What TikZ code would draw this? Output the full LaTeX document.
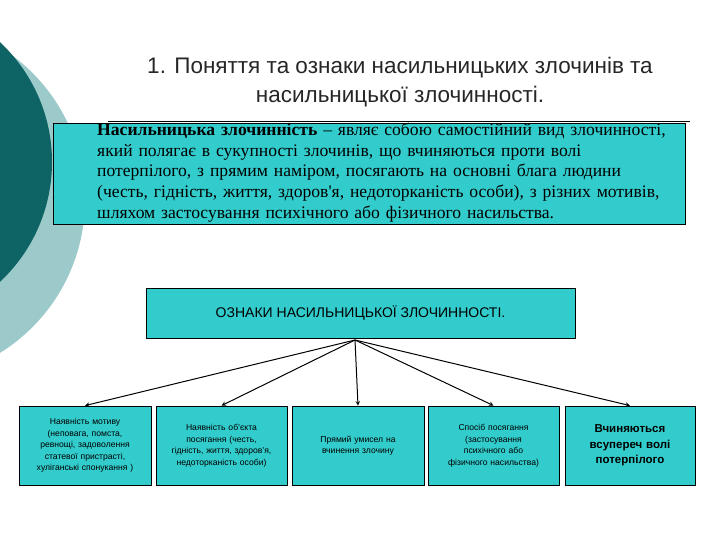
\documentclass[tikz,border=0pt]{standalone}
\usepackage{fontspec}
\setmainfont{Liberation Sans}
\newfontfamily\serif{Liberation Serif}
\begin{document}
\begin{tikzpicture}[x=1pt,y=-1pt,
 box/.style={draw=black,fill=teal1,line width=0.8pt,inner sep=2pt,align=center,font=\fontsize{8.6}{11.5}\selectfont},
 arr/.style={-stealth,line width=1pt}]
\definecolor{teal1}{HTML}{33CCCC}
\definecolor{dk}{HTML}{0E6464}
\definecolor{lt}{HTML}{9CC9C9}
\useasboundingbox (0,0) rectangle (720,540);
\clip (0,0) rectangle (720,540);
\fill[lt] (-95,200) circle (180);
\fill[dk] (-112,162) circle (164);
\node (t) at (400,82) [align=center,font=\fontsize{22.5}{29}\selectfont,text=black!85] {1. Поняття та ознаки насильницьких злочинів та\\насильницької злочинності.};
\coordinate (l1) at (108,121); \coordinate (l2) at (690,121);
\draw[line width=0.8pt] (l1) -- (l2);
\node (def) [draw=black,fill=teal1,line width=0.8pt,minimum width=632pt,minimum height=101pt,anchor=north west,inner sep=0pt] at (53,123) {};
\node (dt) [anchor=north west,align=left,text width=585pt,font=\serif\fontsize{17.6}{20.6}\selectfont,inner sep=0pt] at (97,123)
{\textbf{Насильницька злочинність} – являє собою самостійний вид злочинності,\\ який полягає в сукупності злочинів, що вчиняються проти волі\\ потерпілого, з прямим наміром, посягають на основні блага людини\\ (честь, гідність, життя, здоров'я, недоторканість особи), з різних мотивів,\\ шляхом застосування психічного або фізичного насильства.};
\node (o) [draw=black,fill=teal1,line width=0.8pt,minimum width=429pt,minimum height=50pt,font=\fontsize{14}{16}\selectfont] at (360.5,313) {ОЗНАКИ НАСИЛЬНИЦЬКОЇ ЗЛОЧИННОСТІ.};
\coordinate (h) at (355,340);
\node (b1) [box,minimum width=132pt,minimum height=79pt,text width=128pt] at (85,445.5) {Наявність мотиву\\(неповага, помста,\\ревнощі, задоволення\\статевої пристрасті,\\хуліганські спонукання )};
\node (b2) [box,minimum width=131pt,minimum height=79pt,text width=127pt] at (221.5,445.5) {Наявність об'єкта\\посягання (честь,\\гідність, життя, здоров'я,\\недоторканість особи)};
\node (b3) [box,minimum width=132pt,minimum height=79pt,text width=128pt] at (358,445.5) {Прямий умисел на\\вчинення злочину};
\node (b4) [box,minimum width=131pt,minimum height=79pt,text width=127pt] at (493.5,445.5) {Спосіб посягання\\(застосування\\психічного або\\фізичного насильства)};
\node (b5) [box,minimum width=130pt,minimum height=79pt,text width=120pt,font=\bfseries\fontsize{11.5}{15.5}\selectfont] at (630,445.5) {Вчиняються\\всупереч волі\\потерпілого};
\foreach \b in {b1,b2,b3,b4,b5} \draw[arr] (h) -- (\b.north);
\end{tikzpicture}
\end{document}
